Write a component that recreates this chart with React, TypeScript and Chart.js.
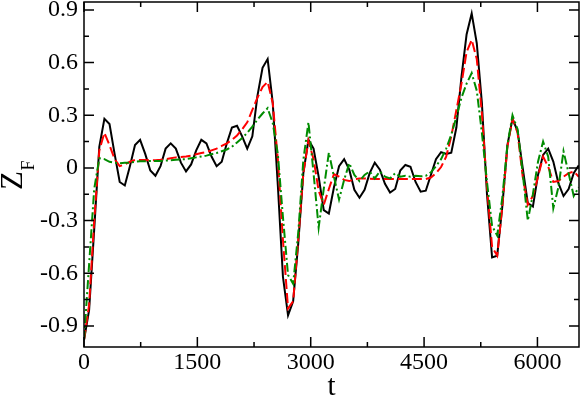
import React, { useEffect, useRef } from "react";
import { Chart, registerables } from "chart.js";

Chart.register(...registerables);

// sampling step of the time series
const T_STEP = 67.5;

const zBlack = [
  -0.98, -0.81, -0.35, 0.12, 0.28, 0.25, 0.08, -0.08, -0.1, 0.01,
  0.13, 0.16, 0.08, -0.015, -0.045, 0.01, 0.11, 0.14, 0.11, 0.03,
  -0.02, 0.02, 0.1, 0.16, 0.14, 0.065, 0.01, 0.035, 0.14, 0.23,
  0.24, 0.18, 0.11, 0.18, 0.41, 0.57, 0.62, 0.37, -0.1, -0.62,
  -0.84, -0.76, -0.43, -0.03, 0.16, 0.11, -0.05, -0.24, -0.26, -0.11,
  0.01, 0.05, -0.01, -0.125, -0.17, -0.125, -0.03, 0.03, -0.01, -0.09,
  -0.14, -0.12, -0.015, 0.017, 0.007, -0.08, -0.135, -0.13, -0.04, 0.05,
  0.09, 0.08, 0.087, 0.23, 0.52, 0.76, 0.88, 0.71, 0.37, -0.15,
  -0.51, -0.5, -0.22, 0.13, 0.28, 0.21, 0.0, -0.2, -0.22, -0.04,
  0.074, 0.11, 0.036, -0.087, -0.16, -0.12, -0.03, 0.015,
];

const zRed = [
  -0.98, -0.78, -0.3, 0.1, 0.2, 0.13, 0.05, 0.01, 0.02, 0.035,
  0.045, 0.045, 0.045, 0.043, 0.044, 0.046, 0.05, 0.055, 0.06, 0.062,
  0.065, 0.07, 0.078, 0.085, 0.09, 0.1, 0.11, 0.125, 0.14, 0.16,
  0.185, 0.22, 0.26, 0.33, 0.4, 0.46, 0.49, 0.37, 0.05, -0.41,
  -0.8, -0.76, -0.41, -0.03, 0.155, 0.05, -0.13, -0.21, -0.12, -0.035,
  -0.05, -0.068, -0.075, -0.065, -0.06, -0.06, -0.062, -0.063, -0.063, -0.063,
  -0.063, -0.063, -0.063, -0.063, -0.063, -0.063, -0.063, -0.063, -0.055, -0.03,
  0.005, 0.064, 0.18, 0.33, 0.48, 0.66, 0.73, 0.62, 0.31, -0.11,
  -0.45, -0.5, -0.22, 0.12, 0.28, 0.2, -0.05, -0.21, -0.16, -0.05,
  0.064, 0.007, -0.08, -0.075, -0.05, -0.03, -0.02, -0.05,
];

const zGreen = [
  -0.98, -0.55, -0.12, 0.055, 0.05, 0.035, 0.03, 0.027, 0.03, 0.03,
  0.035, 0.038, 0.038, 0.04, 0.04, 0.04, 0.042, 0.044, 0.046, 0.048,
  0.05, 0.055, 0.06, 0.065, 0.07, 0.078, 0.085, 0.095, 0.105, 0.12,
  0.145, 0.17, 0.2, 0.235, 0.275, 0.31, 0.34, 0.255, 0.08, -0.28,
  -0.61, -0.66, -0.37, 0.046, 0.26, -0.03, -0.34, -0.12, 0.087, -0.05,
  -0.18, -0.068, 0.027, -0.04, -0.075, -0.04, -0.02, -0.06, -0.02, -0.05,
  -0.06, -0.03, -0.05, -0.045, -0.05, -0.045, -0.048, -0.045, -0.025, 0.01,
  0.05, 0.11, 0.19, 0.29, 0.4, 0.48, 0.54, 0.44, 0.2, -0.08,
  -0.33, -0.385, -0.17, 0.13, 0.3, 0.22, -0.03, -0.3, -0.15, 0.035,
  0.15, 0.064, -0.23, -0.11, 0.095, -0.03, -0.16, -0.11,
];

const timeValues = zBlack.map((_, i) => i * T_STEP);

const xMajorTicks = [0, 1500, 3000, 4500, 6000];
const xMinorTicks = [750, 2250, 3750, 5250];
const yMajorTicks = [-0.9, -0.6, -0.3, 0, 0.3, 0.6, 0.9];
const yMinorTicks = [-0.75, -0.45, -0.15, 0.15, 0.45, 0.75];

const X_MIN = 0;
const X_MAX = 6550;
const Y_MIN = -1.02;
const Y_MAX = 0.945;

const SERIF = '"Liberation Serif", "Times New Roman", serif';

const toPoints = (ys: number[]) => ys.map((v, i) => ({ x: timeValues[i], y: v }));

const framePlugin = {
  id: "graceFrame",
  afterDatasetsDraw(chart: any) {
    const { ctx, chartArea, scales } = chart;
    const { left, right, top, bottom } = chartArea;
    const xs = scales.x;
    const ys = scales.y;
    ctx.save();
    ctx.strokeStyle = "#000";
    ctx.lineWidth = 1.5;
    ctx.strokeRect(left, top, right - left, bottom - top);
    ctx.beginPath();
    const xt = (v: number, len: number) => {
      const p = xs.getPixelForValue(v);
      ctx.moveTo(p, bottom);
      ctx.lineTo(p, bottom - len);
      ctx.moveTo(p, top);
      ctx.lineTo(p, top + len);
    };
    const yt = (v: number, len: number) => {
      const p = ys.getPixelForValue(v);
      ctx.moveTo(left, p);
      ctx.lineTo(left + len, p);
      ctx.moveTo(right, p);
      ctx.lineTo(right - len, p);
    };
    xMajorTicks.forEach((v) => xt(v, 10));
    xMinorTicks.forEach((v) => xt(v, 5));
    yMajorTicks.forEach((v) => yt(v, 10));
    yMinorTicks.forEach((v) => yt(v, 5));
    ctx.stroke();

    // axis titles
    ctx.fillStyle = "#000";
    ctx.font = `29px ${SERIF}`;
    ctx.textAlign = "center";
    ctx.textBaseline = "alphabetic";
    ctx.fillText("t", (left + right) / 2, 395);

    ctx.translate(22, 190);
    ctx.rotate(-Math.PI / 2);
    ctx.textAlign = "left";
    ctx.font = `31px ${SERIF}`;
    ctx.fillText("Z", 0, 0);
    const w = ctx.measureText("Z").width;
    ctx.font = `18px ${SERIF}`;
    ctx.fillText("F", w + 0.5, 11.5);
    ctx.restore();
  },
};

export default function App() {
  const canvasRef = useRef<HTMLCanvasElement | null>(null);

  useEffect(() => {
    const canvas = canvasRef.current;
    if (!canvas) return;
    const chart = new Chart(canvas, {
      type: "line",
      data: {
        datasets: [
          {
            label: "s0",
            data: toPoints(zBlack),
            borderColor: "#000000",
            borderWidth: 2,
            pointRadius: 0,
            tension: 0,
            fill: false,
            order: 2,
          },
          {
            label: "s1",
            data: toPoints(zRed),
            borderColor: "#ff0000",
            borderWidth: 2,
            borderDash: [10, 4],
            pointRadius: 0,
            tension: 0,
            fill: false,
            order: 1,
          },
          {
            label: "s2",
            data: toPoints(zGreen),
            borderColor: "#008c00",
            borderWidth: 2,
            borderDash: [9, 3, 2, 3],
            pointRadius: 0,
            tension: 0,
            fill: false,
            order: 0,
          },
        ],
      },
      options: {
        responsive: false,
        animation: false,
        layout: { padding: { top: 2, right: 2, left: 0, bottom: 0 } },
        plugins: {
          legend: { display: false },
          tooltip: { enabled: false },
          title: { display: false },
        },
        scales: {
          x: {
            type: "linear",
            min: X_MIN,
            max: X_MAX,
            grid: { display: false, drawTicks: false },
            border: { display: false },
            afterBuildTicks: (scale: any) => {
              scale.ticks = xMajorTicks.map((v) => ({ value: v }));
            },
            afterFit: (scale: any) => {
              scale.height = 50;
              scale.paddingLeft = 0;
              scale.paddingRight = 0;
            },
            ticks: {
              autoSkip: false,
              maxRotation: 0,
              minRotation: 0,
              padding: 1,
              color: "#000",
              font: { family: SERIF, size: 24 },
              callback: (v: any) => String(v),
            },
          },
          y: {
            type: "linear",
            min: Y_MIN,
            max: Y_MAX,
            grid: { display: false, drawTicks: false },
            border: { display: false },
            afterBuildTicks: (scale: any) => {
              scale.ticks = yMajorTicks.map((v) => ({ value: v }));
            },
            afterFit: (scale: any) => {
              scale.width = 84;
              scale.paddingTop = 0;
              scale.paddingBottom = 0;
            },
            ticks: {
              autoSkip: false,
              padding: 6,
              color: "#000",
              font: { family: SERIF, size: 24 },
              callback: (v: any) => (Number(v) === 0 ? "0" : Number(v).toFixed(1)),
            },
          },
        },
      },
      plugins: [framePlugin],
    });
    return () => chart.destroy();
  }, []);

  return (
    <div style={{ position: "absolute", left: 0, top: 0, width: 581, height: 397, background: "#fff" }}>
      <canvas ref={canvasRef} width={581} height={397} style={{ display: "block" }} />
    </div>
  );
}
